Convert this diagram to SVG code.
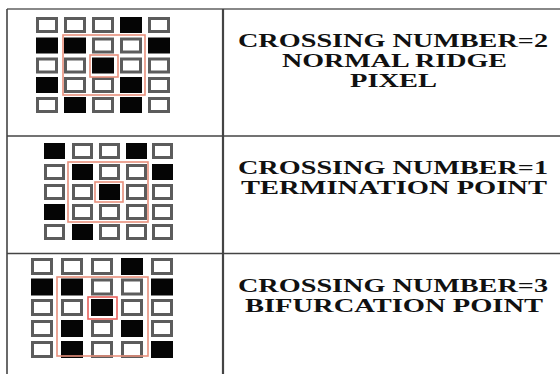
<svg xmlns="http://www.w3.org/2000/svg" width="560" height="374" viewBox="0 0 560 374">
<style>
.w{fill:#fff;stroke:#5c5c5c;stroke-width:3}
.b{fill:#050505}
.r{fill:none;stroke:#e8907c;stroke-width:1.6}
.t{font-family:"Liberation Serif","Times New Roman",serif;font-weight:bold;font-size:19.5px;fill:#111;text-anchor:middle}
.ln{stroke:#444;stroke-width:1.6;fill:none}
</style>
<rect width="560" height="374" fill="#fff"/>
<g id="table">
<line class="ln" x1="7" y1="9" x2="560" y2="9" style="stroke:#888;stroke-width:2"/>
<line class="ln" x1="7" y1="9" x2="7" y2="374"/>
<line class="ln" x1="223" y1="9" x2="223" y2="374" style="stroke-width:2.2"/>
<line class="ln" x1="7" y1="136" x2="560" y2="136"/>
<line class="ln" x1="7" y1="253.5" x2="560" y2="253.5"/>
</g>
<g id="grid1">
<rect class="w" x="37.5" y="18.5" width="19" height="13"/>
<rect class="w" x="65.5" y="18.5" width="19" height="13"/>
<rect class="w" x="93.5" y="18.5" width="19" height="13"/>
<rect class="b" x="120" y="17" width="22" height="16"/>
<rect class="w" x="149.5" y="18.5" width="19" height="13"/>
<rect class="b" x="36" y="37.5" width="22" height="16"/>
<rect class="b" x="64" y="37.5" width="22" height="16"/>
<rect class="w" x="93.5" y="39" width="19" height="13"/>
<rect class="w" x="121.5" y="39" width="19" height="13"/>
<rect class="b" x="148" y="37.5" width="22" height="16"/>
<rect class="w" x="37.5" y="59" width="19" height="13"/>
<rect class="w" x="65.5" y="59" width="19" height="13"/>
<rect class="b" x="92" y="57.5" width="22" height="16"/>
<rect class="w" x="121.5" y="59" width="19" height="13"/>
<rect class="w" x="149.5" y="59" width="19" height="13"/>
<rect class="b" x="36" y="77" width="22" height="16"/>
<rect class="w" x="65.5" y="78.5" width="19" height="13"/>
<rect class="w" x="93.5" y="78.5" width="19" height="13"/>
<rect class="b" x="120" y="77" width="22" height="16"/>
<rect class="w" x="149.5" y="78.5" width="19" height="13"/>
<rect class="w" x="37.5" y="98.5" width="19" height="13"/>
<rect class="b" x="64" y="97" width="22" height="16"/>
<rect class="w" x="93.5" y="98.5" width="19" height="13"/>
<rect class="b" x="120" y="97" width="22" height="16"/>
<rect class="w" x="149.5" y="98.5" width="19" height="13"/>
<rect class="r" x="63" y="35" width="82" height="60"/>
<rect class="r" x="90" y="55" width="28" height="22"/>
</g>
<g id="grid2">
<rect class="b" x="44" y="143" width="21" height="16"/>
<rect class="w" x="73.5" y="144.5" width="18" height="13"/>
<rect class="w" x="100.5" y="144.5" width="18" height="13"/>
<rect class="b" x="126" y="143" width="21" height="16"/>
<rect class="w" x="153.5" y="144.5" width="18" height="13"/>
<rect class="w" x="45.5" y="165.5" width="18" height="13"/>
<rect class="b" x="72" y="164" width="21" height="16"/>
<rect class="w" x="100.5" y="165.5" width="18" height="13"/>
<rect class="w" x="127.5" y="165.5" width="18" height="13"/>
<rect class="b" x="152" y="164" width="21" height="16"/>
<rect class="w" x="45.5" y="185.5" width="18" height="13"/>
<rect class="w" x="73.5" y="185.5" width="18" height="13"/>
<rect class="b" x="99" y="184" width="21" height="16"/>
<rect class="w" x="127.5" y="185.5" width="18" height="13"/>
<rect class="w" x="153.5" y="185.5" width="18" height="13"/>
<rect class="b" x="44" y="204" width="21" height="16"/>
<rect class="w" x="73.5" y="205.5" width="18" height="13"/>
<rect class="w" x="100.5" y="205.5" width="18" height="13"/>
<rect class="w" x="127.5" y="205.5" width="18" height="13"/>
<rect class="w" x="153.5" y="205.5" width="18" height="13"/>
<rect class="w" x="45.5" y="225.5" width="18" height="13"/>
<rect class="b" x="72" y="224" width="21" height="16"/>
<rect class="w" x="100.5" y="225.5" width="18" height="13"/>
<rect class="w" x="127.5" y="225.5" width="18" height="13"/>
<rect class="w" x="153.5" y="225.5" width="18" height="13"/>
<rect class="r" x="68" y="162" width="80" height="60"/>
<rect class="r" x="95" y="182" width="28" height="20"/>
</g>
<g id="grid3">
<rect class="w" x="32.5" y="259.5" width="19" height="14"/>
<rect class="w" x="62.5" y="259.5" width="19" height="14"/>
<rect class="w" x="92.5" y="259.5" width="19" height="14"/>
<rect class="b" x="121" y="258" width="22" height="17"/>
<rect class="w" x="152.5" y="259.5" width="19" height="14"/>
<rect class="b" x="31" y="278.5" width="22" height="17"/>
<rect class="b" x="61" y="278.5" width="22" height="17"/>
<rect class="w" x="92.5" y="280" width="19" height="14"/>
<rect class="w" x="122.5" y="280" width="19" height="14"/>
<rect class="b" x="151" y="278.5" width="22" height="17"/>
<rect class="w" x="32.5" y="300.5" width="19" height="14"/>
<rect class="w" x="62.5" y="300.5" width="19" height="14"/>
<rect class="b" x="91" y="299" width="22" height="17"/>
<rect class="w" x="122.5" y="300.5" width="19" height="14"/>
<rect class="w" x="152.5" y="300.5" width="19" height="14"/>
<rect class="w" x="32.5" y="321.5" width="19" height="14"/>
<rect class="b" x="61" y="320" width="22" height="17"/>
<rect class="w" x="92.5" y="321.5" width="19" height="14"/>
<rect class="b" x="121" y="320" width="22" height="17"/>
<rect class="w" x="152.5" y="321.5" width="19" height="14"/>
<rect class="w" x="32.5" y="342.5" width="19" height="14"/>
<rect class="b" x="61" y="341" width="22" height="17"/>
<rect class="w" x="92.5" y="342.5" width="19" height="14"/>
<rect class="w" x="122.5" y="342.5" width="19" height="14"/>
<rect class="b" x="151" y="341" width="22" height="17"/>
<rect class="r" x="57" y="277" width="91" height="79"/>
<rect class="r" x="88" y="297" width="29" height="22" style="stroke:#e8605a"/>
</g>
<g id="label1">
<text class="t" x="393" y="46.7" textLength="310" lengthAdjust="spacingAndGlyphs">CROSSING NUMBER=2</text>
<text class="t" x="394.5" y="66.7" textLength="225" lengthAdjust="spacingAndGlyphs">NORMAL RIDGE</text>
<text class="t" x="393.5" y="87.3" textLength="87" lengthAdjust="spacingAndGlyphs">PIXEL</text>
</g>
<g id="label2">
<text class="t" x="393" y="173.5" textLength="310" lengthAdjust="spacingAndGlyphs">CROSSING NUMBER=1</text>
<text class="t" x="394" y="193.5" textLength="306" lengthAdjust="spacingAndGlyphs">TERMINATION POINT</text>
</g>
<g id="label3">
<text class="t" x="393" y="291.5" textLength="310" lengthAdjust="spacingAndGlyphs">CROSSING NUMBER=3</text>
<text class="t" x="394" y="311.5" textLength="298" lengthAdjust="spacingAndGlyphs">BIFURCATION POINT</text>
</g>
</svg>
